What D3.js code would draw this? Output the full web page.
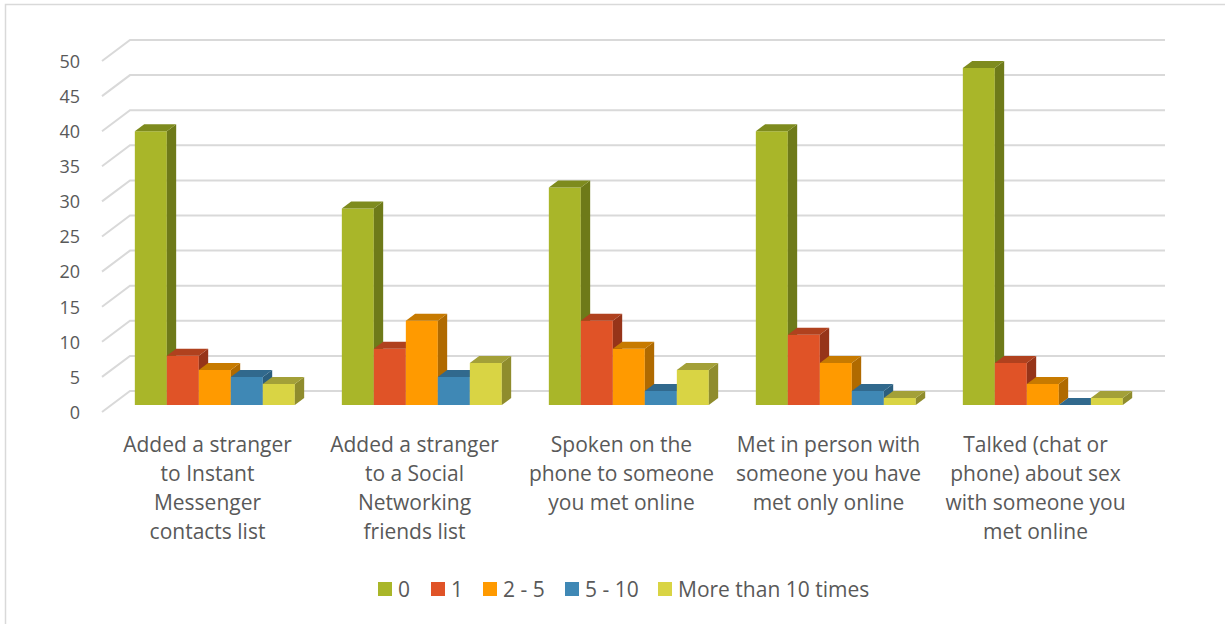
<!DOCTYPE html>
<html><head><meta charset="utf-8">
<script src="https://cdn.jsdelivr.net/npm/d3@7"></script>
<style>html,body{margin:0;padding:0;background:#fff;}svg{display:block;font-family:"Open Sans",sans-serif;}</style>
</head><body><svg id="c" width="1225" height="624"></svg>
<script>
const categories = [
  ["Added a stranger","to Instant","Messenger","contacts list"],
  ["Added a stranger","to a Social","Networking","friends list"],
  ["Spoken on the","phone to someone","you met online"],
  ["Met in person with","someone you have","met only online"],
  ["Talked (chat or","phone) about sex","with someone you","met online"]
];
const seriesNames = ["0","1","2 - 5","5 - 10","More than 10 times"];
const s0 = [39, 28, 31, 39, 48];
const s1 = [7, 8, 12, 10, 6];
const s2 = [5, 12, 8, 6, 3];
const s3 = [4, 4, 2, 2, 0];
const s4 = [3, 6, 5, 1, 1];
const series = [s0, s1, s2, s3, s4];
const yTicks = [0,5,10,15,20,25,30,35,40,45,50];

const colors = [
  {front:"#A9B629", side:"#6E7A19", top:"#7E8B1E"},
  {front:"#E05327", side:"#963419", top:"#B0411E"},
  {front:"#FF9A00", side:"#B06A00", top:"#C77A00"},
  {front:"#3F88B5", side:"#2B5E7E", top:"#31698D"},
  {front:"#D9D444", side:"#8F8C2D", top:"#A3A038"}
];

const svg = d3.select("#c");
svg.append("rect").attr("x",5.5).attr("y",4.5).attr("width",1230).attr("height",640)
  .attr("fill","none").attr("stroke","#d9d9d9").attr("stroke-width",1.5);

const frontLeft = 102, frontRight = 1137;
const DX = 28, DY = -21;
const y = d3.scaleLinear().domain([0,50]).range([412, 61]);
const x = d3.scaleBand().domain(d3.range(categories.length)).range([frontLeft, frontRight]);
const proj = (px, v, d) => [px + DX*d, y(v) + DY*d];

const grid = svg.append("g").attr("stroke","#d9d9d9").attr("stroke-width",2).attr("fill","none");
yTicks.forEach(t => {
  const a = proj(frontLeft, t, 0), b = proj(frontLeft, t, 1), c = proj(frontRight, t, 1);
  grid.append("path").attr("d", `M${a[0]},${a[1]}L${b[0]},${b[1]}L${c[0]},${c[1]}`);
});

svg.append("g").selectAll("text").data(yTicks).join("text")
  .attr("x", 80).attr("y", d => y(d)+2).attr("text-anchor","end")
  .attr("dominant-baseline","middle").attr("font-size",18).attr("fill","#595959").text(d=>d);

const barW = 32, groupW = barW*series.length;
const d0 = 1/3, d1 = 2/3;
const bars = svg.append("g");
categories.forEach((c, ci) => {
  const gx = x(ci) + (x.bandwidth() - groupW)/2;
  series.forEach((s, si) => {
    const v = s[ci];
    const x0 = gx + si*barW, x1 = x0 + barW;
    const col = colors[si];
    const pts = arr => arr.map(p => p.join(",")).join(" ");
    bars.append("polygon").attr("fill", col.front)
      .attr("points", pts([proj(x0,0,d0), proj(x1,0,d0), proj(x1,v,d0), proj(x0,v,d0)]));
    bars.append("polygon").attr("fill", col.side)
      .attr("points", pts([proj(x1,0,d0), proj(x1,0,d1), proj(x1,v,d1), proj(x1,v,d0)]));
    bars.append("polygon").attr("fill", col.top)
      .attr("points", pts([proj(x0,v,d0), proj(x1,v,d0), proj(x1,v,d1), proj(x0,v,d1)]));
  });
});

const cl = svg.append("g").attr("font-size",21).attr("fill","#595959").attr("text-anchor","middle");
categories.forEach((lines, ci) => {
  const cx = x(ci) + x.bandwidth()/2 + 2;
  lines.forEach((ln, li) => {
    cl.append("text").attr("x", cx).attr("y", 452 + li*29).text(ln);
  });
});

const legX = [378, 431, 483, 565, 658];
const lg = svg.append("g");
seriesNames.forEach((n, i) => {
  lg.append("rect").attr("x", legX[i]).attr("y", 582).attr("width",14).attr("height",14).attr("fill", colors[i].front);
  lg.append("text").attr("x", legX[i]+20).attr("y", 597).attr("font-size",21).attr("fill","#595959").text(n);
});
</script>
</body></html>
